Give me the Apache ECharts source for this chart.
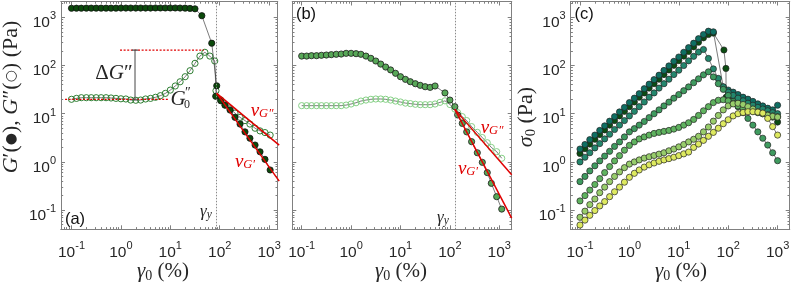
<!DOCTYPE html>
<html>
<head>
<meta charset="utf-8">
<script src="https://cdn.jsdelivr.net/npm/echarts@6.0.0/dist/echarts.min.js"></script>
<style>
html,body{margin:0;padding:0;background:#fff;}
#chart{width:793px;height:282px;}
</style>
</head>
<body>
<div id="chart"></div>
<script>
// ---------------- data ----------------
const gamma = [0.1,0.126,0.158,0.2,0.251,0.316,0.398,0.501,0.631,0.794,1,1.26,1.58,2,2.51,3.16,3.98,5.01,6.31,7.94,10,12.6,15.8,20,25.1,31.6,39.8,50.1,63.1,79.4,100,126,158,200,251,316,398,501,631,794,1000];
const tickValues = [0.1, 1, 10, 100, 1000];

// panel (a)
const aGp = [1540,1545,1545,1550,1550,1550,1550,1550,1550,1550,1555,1555,1555,1555,1555,1555,1555,1560,1560,1560,1560,1560,1555,1550,1530,1500];
const aGpTail = [[43.5,1080],[69,290],[87,38],[83,23],[105,18.6],[128,15.1],[162,11.9],[204,8.4],[258,6.1],[325,4.2],[409,3.1],[520,2.24],[655,1.62],[825,1.13],[1050,0.68]];
const aGpp = [19.9,20.8,21.5,21.5,21.5,21.5,21.5,21.5,21.2,20.8,20.4,20.2,19.2,19.0,19.2,20.2,20.8,21.9,23.7,26.4,30.9,37.6,46,58.6,78,111,157,188,157,124];
const aGppTail = [[84,30],[105,19.3],[128,15.1],[162,12.6],[204,10.3],[258,8.4],[325,7.2],[409,6.1],[520,5.0],[655,4.4],[825,4.06],[1050,3.6]];
const aYield = 85.6;
const aG0pp = 19.9;
const aGppMax = 209;
const aFitStart = [87, 26.5];
const aNuGpEnd = [1600, 0.40];
const aNuGppEnd = [1600, 2.23];

// panel (b)
const bGp = [157,157,160,160,163,165,168,171,173,179,179,176,171,157,141,124,107,93,81,69,58.6,51.6,46.1,41.9,38.8,36.3,35.2,37.6,null,27,19.2,14];
const bGpTail = [[144,9.4],[178,6.3],[219,4.2],[275,2.63],[359,1.55],[453,0.98],[571,0.60],[689,0.36],[885,0.19],[1120,0.105]];
const bGpp = [14.7,14.7,14.7,14.7,14.7,14.7,14.7,14.7,14.7,15.1,15.9,16.9,18.3,19.2,19.9,20.2,20.2,19.9,19.2,18.3,17.5,16.6,16.2,15.7,15.4,15.4,15.4,15.9,17.2,18.5,15.5,12.5];
const bGppTail = [[144,10.5],[178,8.7],[219,7.2],[275,5.4],[359,4.1],[453,3.2],[571,2.5],[689,2.0],[885,1.63],[1120,1.19]];
const bYield = 126;
const bFitStart = [126, 12.3];
const bNuGpEnd = [1780, 0.068];
const bNuGppEnd = [1780, 0.54];

// panel (c)  sigma_0 for seven samples
const c1 = [1.85,2.3,2.9,3.6,4.5,5.6,7.0,8.7,10.9,13.5,17,21,26,33,41,51,63,79,98,122,150,188,235,290,360,440,515,500,null,36,31,28,25,22,20,18,16,14.5,13,12,15];
const c2 = [1.5,1.88,2.35,2.95,3.7,4.6,5.8,7.2,9.0,11.2,14,17.5,22,27,34,42,52,65,81,101,126,157,196,244,304,375,440,470,null,null,20,18.5,17,15.5,14,13,12,11,10,8.5,6.7];
const c2Extra = [[82,210],[90,87],[91,22]];
const c3 = [1.0,1.25,1.55,1.95,2.4,3.0,3.75,4.7,5.8,7.2,9.0,11.2,14,17.5,22,27,34,42,52,65,80,100,125,155,190,215,140,85,54,36,28,24,21,18.5,16.5,15,13.5,12.5,11.5,10.5,10];
const c4 = [0.39,0.5,0.65,0.83,1.05,1.32,1.66,2.1,2.6,3.3,4.2,4.9,5.8,6.9,8.3,10,12,14.5,17.4,21,25,30,36,44,53,64,74,58,42,32,24,18,14,10.5,8,5.8,4.2,3.1,2.24,1.55,1.06];
const c5 = [0.155,0.2,0.26,0.34,0.45,0.6,0.8,1.05,1.35,1.75,2.2,2.6,3.0,3.3,3.6,3.9,4.1,4.3,4.5,4.8,5.2,5.8,6.5,7.6,9.2,11.5,14,17,19,19.5,18.5,16.5,14.5,13,12,11.2,10.5,10,9.5,9,8.7];
const c6 = [0.071,0.095,0.13,0.17,0.23,0.3,0.39,0.5,0.62,0.76,0.9,1.0,1.1,1.2,1.28,1.36,1.45,1.55,1.7,1.85,2.05,2.3,2.6,2.95,3.4,4.2,5.3,7.0,9.2,12,14.5,16,16.5,15.5,14,12.5,11,10,9.3,8.8,8.5];
const c7 = [0.049,0.062,0.078,0.098,0.122,0.15,0.19,0.24,0.3,0.38,0.48,0.58,0.68,0.78,0.87,0.95,1.03,1.1,1.17,1.25,1.35,1.47,1.6,2.0,2.35,2.8,3.4,4.1,5.0,6.2,7.5,9.0,10.0,10.6,11,11,10.8,10.3,8,5.4,3.6];

// ---------------- layout / style ----------------
const AX = '#808080';
const TXT = '#262626';
const RED = '#e00000';
const SERIF = 'Liberation Serif';
const SANS = 'Liberation Sans';
const MS = 6.2;
const gridsDef = [
  {left:61, top:1.5, width:216.7, height:227.8},
  {left:292.3, top:1.5, width:219.4, height:227.8},
  {left:570.7, top:1.5, width:219, height:227.8}
];
const xLog = [[-1.2126,3.1741],[-1.190,3.251],[-1.188,3.245]];
const yLog = [-1.398,3.328];
const showYLabels = [true,false,true];

const labelRich = {
  b:{fontFamily:SANS, fontSize:15.5, color:TXT, lineHeight:20, verticalAlign:'bottom'},
  s:{fontFamily:SANS, fontSize:11, color:TXT, lineHeight:8, verticalAlign:'top'}
};
function logFmt(v){ const e = Math.round(Math.log(v)/Math.LN10); return '{b|10}{s|' + e + '}'; }
function minorList(min,max){
  const out=[];
  for(let e=-3;e<=4;e++){ for(let m=2;m<=9;m++){ const v=m*Math.pow(10,e); if(v>min&&v<max) out.push(v);} }
  return out;
}
function buildAxes(dim){
  const axes=[];
  gridsDef.forEach((g,gi)=>{
    const r = dim==='x' ? xLog[gi] : yLog;
    const min=Math.pow(10,r[0]), max=Math.pow(10,r[1]);
    const majors = tickValues.filter(v=>v>=min&&v<=max);
    const minors = minorList(min,max);
    const sides = dim==='x' ? ['bottom','top'] : ['left','right'];
    sides.forEach((pos,si)=>{
      [true,false].forEach(isMajor=>{
        const showLab = isMajor && si===0 && (dim==='x' || showYLabels[gi]);
        axes.push({
          type:'log', logBase:10, gridIndex:gi, position:pos, min:min, max:max,
          axisLine:{show:true,onZero:false,lineStyle:{color:AX,width:1}},
          axisTick:{show:true,inside:true,length:isMajor?4:2.2,customValues:isMajor?majors:minors,lineStyle:{color:AX,width:1}},
          axisLabel:{show:showLab, customValues:majors, formatter:logFmt, rich:labelRich,
                     margin: dim==='x'?11:5, padding: dim==='x'?0:[7,0,0,0]},
          splitLine:{show:false}, minorTick:{show:false}, minorSplitLine:{show:false},
          silent:true
        });
      });
    });
  });
  return axes;
}

function onGrid(vals){ const out=[]; vals.forEach((v,i)=>{ if(v!=null) out.push([gamma[i], v]); }); return out; }

function pts(gi, data, fill, border, bw, size, z){
  return {type:'line', xAxisIndex:4*gi, yAxisIndex:4*gi, data:data, symbol:'circle', symbolSize:size,
    showSymbol:true, showAllSymbol:true, itemStyle:{color:fill, borderColor:border, borderWidth:bw},
    lineStyle:{color:'#222', width:0.6}, emphasis:{disabled:true}, silent:true, z:z||2};
}
function seg(gi, data, color, width, type, z){
  return {type:'line', xAxisIndex:4*gi, yAxisIndex:4*gi, data:data, symbol:'none', clip:true,
    lineStyle:{color:color, width:width, type:type||'solid'}, emphasis:{disabled:true}, silent:true, z:z||5};
}
function vline(gi, x){
  return {type:'line', xAxisIndex:4*gi, yAxisIndex:4*gi, data:[], symbol:'none',
    markLine:{silent:true, symbol:'none', label:{show:false}, animation:false,
      lineStyle:{color:'#8a8a8a', width:1, type:[1.5,1.5]}, data:[{xAxis:x}]}};
}

const OPEN = 'rgba(0,0,0,0)';
const series = [
  // panel a
  vline(0, aYield),
  pts(0, onGrid(aGpp).concat(aGppTail), OPEN, '#2e7d32', 1, MS, 2),
  pts(0, onGrid(aGp).concat(aGpTail), '#0b4a0b', '#111', 0.8, MS, 3),
  seg(0, [aFitStart, aNuGppEnd], RED, 1.5),
  seg(0, [aFitStart, aNuGpEnd], RED, 1.5),
  seg(0, [[0.074,aG0pp],[9.1,aG0pp]], RED, 1.3, [2,1.6]),
  seg(0, [[0.96,aGppMax],[48,aGppMax]], RED, 1.3, [2,1.6]),
  seg(0, [[1.93,aGppMax],[1.93,aG0pp]], '#555', 1.1),
  seg(0, [[1.67,aGppMax],[2.23,aGppMax]], '#555', 1.1),
  seg(0, [[1.67,aG0pp],[2.23,aG0pp]], '#555', 1.1),
  // panel b
  vline(1, bYield),
  pts(1, onGrid(bGpp).concat(bGppTail), OPEN, '#86cf86', 1, MS, 2),
  pts(1, onGrid(bGp).concat(bGpTail), '#58a858', '#1a1a1a', 0.8, MS, 3),
  seg(1, [bFitStart, bNuGppEnd], RED, 1.5),
  seg(1, [bFitStart, bNuGpEnd], RED, 1.5),
  // panel c
  pts(2, onGrid(c2).concat(c2Extra).sort((p,q)=>p[0]-q[0]), '#0b4d12', '#222', 0.7, MS, 2),
  pts(2, onGrid(c1), '#0f6f63', '#222', 0.7, MS, 2),
  pts(2, onGrid(c3), '#23876d', '#222', 0.7, MS, 2),
  pts(2, onGrid(c4), '#3f9b5f', '#222', 0.7, MS, 2),
  pts(2, onGrid(c5), '#5fb35f', '#222', 0.7, MS, 2),
  pts(2, onGrid(c6), '#98cd6b', '#222', 0.7, MS, 2),
  pts(2, onGrid(c7), '#dde95f', '#222', 0.7, MS, 2)
];

// ---------------- text annotations ----------------
function txt(x, y, text, rich, extra){
  return Object.assign({type:'text', x:x, y:y, silent:true, z:100,
    style:{text:text, rich:rich, align:'center', verticalAlign:'middle', fill:TXT}}, extra||{});
}
const gammaRich = {
  i:{fontFamily:SERIF, fontStyle:'italic', fontSize:21, fill:TXT, lineHeight:22, verticalAlign:'top'},
  sub:{fontFamily:SERIF, fontSize:14, fill:TXT, lineHeight:13, verticalAlign:'bottom'},
  r:{fontFamily:SERIF, fontSize:21, fill:TXT, lineHeight:22, verticalAlign:'top'}
};
const nuRich = {
  n:{fontFamily:SERIF, fontStyle:'italic', fontSize:19, fill:RED, lineHeight:19, verticalAlign:'top'},
  s:{fontFamily:SERIF, fontStyle:'italic', fontSize:12.5, fill:RED, lineHeight:12, verticalAlign:'bottom'}
};
const gyRich = {
  n:{fontFamily:SERIF, fontStyle:'italic', fontSize:17, fill:TXT, lineHeight:17, verticalAlign:'top'},
  s:{fontFamily:SERIF, fontStyle:'italic', fontSize:11.5, fill:TXT, lineHeight:11, verticalAlign:'bottom'}
};
const yRich = {
  i:{fontFamily:SERIF, fontStyle:'italic', fontSize:22, fill:TXT},
  r:{fontFamily:SERIF, fontSize:22, fill:TXT},
  d:{fontFamily:'DejaVu Sans', fontSize:14, fill:TXT}
};
const sigRich = {
  i:{fontFamily:SERIF, fontStyle:'italic', fontSize:22, fill:TXT, lineHeight:23, verticalAlign:'top'},
  sub:{fontFamily:SERIF, fontSize:14.5, fill:TXT, lineHeight:14, verticalAlign:'bottom'},
  r:{fontFamily:SERIF, fontSize:22, fill:TXT, lineHeight:23, verticalAlign:'top'}
};
const dgRich = {
  r:{fontFamily:SERIF, fontSize:21, fill:TXT},
  i:{fontFamily:SERIF, fontStyle:'italic', fontSize:21, fill:TXT}
};
const labRich = { p:{fontFamily:SANS, fontSize:16.5, fill:'#111'} };

const graphic = [
  txt(163, 272, '{i|γ}{sub|0}{r| (%)}', gammaRich),
  txt(401, 272, '{i|γ}{sub|0}{r| (%)}', gammaRich),
  txt(681, 272, '{i|γ}{sub|0}{r| (%)}', gammaRich),
  txt(11, 97, '{i|G}{r|′(}{d|●}{r|), }{i|G}{r|″(}{d|○}{r|) (Pa)}', yRich, {rotation:Math.PI/2}),
  txt(527, 117, '{i|σ}{sub|0}{r| (Pa)}', sigRich, {rotation:Math.PI/2}),
  txt(75, 219, '{p|(a)}', labRich),
  txt(306, 14, '{p|(b)}', labRich),
  txt(584, 14, '{p|(c)}', labRich),
  txt(206, 212, '{n|γ}{s|y}', gyRich),
  txt(443, 218, '{n|γ}{s|y}', gyRich),
  txt(114, 73, '{r|Δ}{i|G}{r|″}', dgRich),
  txt(178, 99, '{i|G}', dgRich),
  txt(188, 93, '{r|″}', {r:{fontFamily:SERIF, fontSize:14, fill:TXT}}),
  txt(187, 105, '{r|0}', {r:{fontFamily:SERIF, fontSize:12, fill:TXT}}),
  txt(262, 111, '{n|ν}{s|G″}', nuRich),
  txt(245, 162, '{n|ν}{s|G′}', nuRich),
  txt(492, 128, '{n|ν}{s|G″}', nuRich),
  txt(468, 169, '{n|ν}{s|G′}', nuRich)
];

const option = {
  animation:false,
  backgroundColor:'#ffffff',
  grid: gridsDef.map(g=>Object.assign({containLabel:false, show:false}, g)),
  xAxis: buildAxes('x'),
  yAxis: buildAxes('y'),
  series: series,
  graphic: graphic
};
const chart = echarts.init(document.getElementById('chart'), null, {renderer:'canvas', width:793, height:282});
chart.setOption(option);
</script>
</body>
</html>
